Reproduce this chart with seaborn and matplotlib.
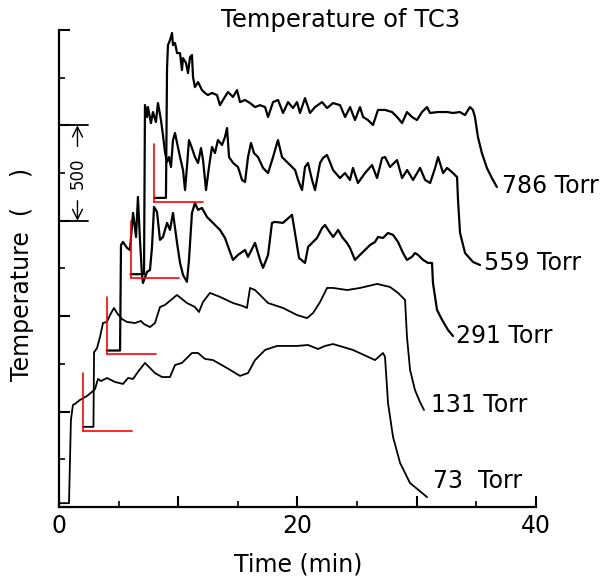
import numpy as np
import pandas as pd
import seaborn as sns
import matplotlib.pyplot as plt
from matplotlib.ticker import MultipleLocator

# TC3 temperature records, raw (time from start in min, temperature)
pressures = ["73  Torr", "131 Torr", "291 Torr", "559 Torr", "786 Torr"]
shift_time = 2.0   # each record shifted right by 2 min
shift_temp = 400   # and up by 400

t73 = [0, 0.84, 1.0, 1.17, 1.34, 1.76, 2.35, 2.77, 3.02, 3.27, 3.52, 4.03, 4.70, 5.37, 5.79,
       6.21, 6.62, 7.21, 8.05, 8.64, 9.31, 9.73, 10.31, 11.15, 11.66, 12.24, 12.91, 14.09,
       15.18, 15.85, 16.44, 17.28, 18.28, 19.96, 20.88, 21.72, 22.31, 22.98, 24.65, 26.50,
       27.17, 27.34, 27.59, 28.01, 28.60, 29.43, 30.86]
T73 = [20, 20, 456, 535, 540, 561, 582, 603, 618, 671, 660, 676, 655, 645, 676,
       671, 708, 755, 702, 681, 681, 744, 755, 807, 807, 776, 770, 728,
       687, 702, 770, 823, 844, 844, 849, 828, 844, 854, 823, 770,
       807, 786, 545, 367, 231, 126, 52]

t131 = [0, 0.89, 0.94, 1.19, 1.44, 1.69, 2.02, 2.28, 2.61, 2.86, 3.28, 3.70, 4.37, 4.87,
        5.12, 5.63, 6.05, 6.47, 6.89, 7.89, 8.73, 9.40, 9.74, 10.07, 10.66, 11.50, 12.59,
        13.43, 13.76, 14.02, 14.44, 14.86, 15.53, 16.79, 17.96, 18.80, 19.31, 19.89, 20.48,
        20.98, 22.16, 23.25, 24.67, 25.76, 26.43, 27.02, 27.18, 27.44, 27.85, 28.27, 28.61]
T131 = [20, 20, 411, 433, 491, 564, 570, 606, 643, 617, 585, 570, 564, 575,
        559, 543, 564, 648, 659, 711, 669, 648, 622, 674, 722, 701, 669,
        653, 643, 748, 737, 711, 669, 643, 606, 590, 617, 674, 748,
        748, 737, 748, 769, 753, 722, 685, 491, 318, 213, 150, 108]

t291 = [0, 1.12, 1.20, 1.37, 1.70, 1.95, 2.21, 2.29, 2.46, 2.62, 2.79, 2.96, 3.04, 3.38,
        3.63, 3.80, 3.97, 4.22, 4.47, 4.72, 5.06, 5.31, 5.56, 5.90, 6.15, 6.40, 6.73, 6.90,
        7.15, 7.40, 7.66, 7.99, 8.41, 8.91, 9.50, 9.92, 10.34, 10.59, 11.01, 11.60, 11.85,
        12.44, 12.86, 13.11, 13.53, 13.86, 14.11, 14.78, 15.54, 15.79, 16.13, 16.63, 16.89,
        17.22, 17.64, 18.06, 18.31, 18.57, 18.99, 19.41, 19.74, 20.15, 20.40, 20.82, 21.07,
        21.66, 22.08, 22.50, 22.75, 23.17, 23.59, 24.01, 24.43, 24.85, 25.18, 25.60, 25.85,
        26.11, 26.53, 26.94, 27.28, 27.36, 27.70, 28.12, 28.62, 29.04]
T291 = [20, 20, 573, 589, 558, 547, 741, 704, 615, 825, 600, 416, 374, 432,
        442, 563, 773, 746, 600, 615, 689, 652, 741, 584, 479, 416, 380, 495,
        741, 793, 757, 767, 720, 689, 652, 610, 537, 495, 521, 547, 511,
        584, 495, 453, 521, 689, 694, 689, 731, 636, 505, 479, 563,
        584, 610, 662, 678, 652, 615, 652, 615, 584, 558, 495, 511,
        547, 573, 589, 615, 610, 636, 626, 589, 531, 495, 511, 531,
        521, 495, 479, 479, 374, 233, 181, 128, 96]

t559 = [0, 1.13, 1.21, 1.38, 1.46, 1.71, 1.88, 2.13, 2.30, 2.55, 2.72, 2.89, 3.06, 3.23,
        3.39, 3.56, 3.73, 3.90, 4.15, 4.40, 4.57, 4.73, 4.90, 5.15, 5.40, 5.66, 5.91, 6.08,
        6.33, 6.58, 6.83, 7.08, 7.33, 7.67, 7.92, 8.09, 8.26, 8.60, 9.01, 9.35, 9.60, 9.85,
        10.10, 10.35, 10.69, 11.11, 11.53, 11.95, 12.36, 12.70, 12.96, 13.38, 13.80, 14.05,
        14.38, 14.63, 14.88, 15.22, 15.47, 15.89, 16.14, 16.47, 16.72, 16.98, 17.56, 17.98,
        18.40, 18.65, 19.07, 19.66, 20.25, 20.67, 21.09, 21.34, 21.76, 22.35, 22.77, 23.19,
        23.69, 24.28, 24.70, 25.12, 25.54, 25.79, 26.21, 26.54, 26.96, 27.38, 27.46, 27.63,
        28.05, 28.72, 29.31]
T559 = [20, 20, 907, 844, 896, 812, 870, 818, 917, 828, 749, 660, 608, 634,
        582, 723, 760, 708, 634, 566, 461, 582, 723, 681, 634, 603, 681, 618,
        461, 582, 687, 655, 723, 697, 739, 786, 634, 603, 582, 514, 503, 634,
        708, 655, 634, 577, 550, 634, 723, 634, 618, 592, 566, 514,
        461, 582, 603, 514, 461, 603, 629, 645, 608, 566, 524, 550,
        514, 577, 498, 550, 592, 524, 629, 634, 582, 618, 524, 566,
        514, 577, 514, 498, 577, 634, 550, 577, 555, 529, 409, 236,
        131, 84, 68]

t786 = [0, 0.97, 1.06, 1.14, 1.31, 1.48, 1.56, 1.73, 1.90, 2.15, 2.31, 2.40, 2.65, 2.82,
        2.99, 3.15, 3.24, 3.40, 3.66, 3.99, 4.24, 4.49, 4.83, 5.25, 5.50, 5.75, 6.17, 6.59,
        6.93, 7.18, 7.60, 8.02, 8.44, 8.86, 9.28, 9.53, 9.95, 10.37, 10.79, 11.21, 11.62,
        11.96, 12.21, 12.63, 13.05, 13.47, 14.06, 14.48, 14.98, 15.57, 15.99, 16.41, 16.82,
        17.24, 17.50, 17.91, 18.33, 18.75, 19.34, 19.93, 20.35, 20.77, 21.18, 21.60, 22.02,
        22.44, 22.86, 23.11, 23.78, 24.54, 25.04, 25.62, 26.04, 26.46, 26.71, 26.88, 27.13,
        27.46, 27.88, 28.30, 28.72]
T786 = [20, 20, 701, 821, 847, 884, 821, 832, 779, 779, 690, 753, 727, 674,
        758, 769, 653, 601, 627, 585, 570, 559, 570, 559, 506, 533, 575, 549,
        585, 522, 533, 517, 496, 506, 496, 444, 522, 533, 465, 522, 491,
        522, 465, 543, 465, 496, 522, 491, 517, 506, 444, 496, 428,
        496, 444, 428, 402, 481, 481, 470, 444, 412, 470, 444, 428,
        470, 496, 465, 470, 470, 465, 470, 454, 496, 481, 444, 339,
        255, 177, 124, 77]

times = [t73, t131, t291, t559, t786]
temps = [T73, T131, T291, T559, T786]

# look of each curve / label
line_widths = [1.3, 1.3, 1.6, 1.6, 1.6]
label_offsets = [(4, 11.5), (5, 3.6), (2, 0), (2.5, 1.5), (3.6, 1)]

sns.set_theme(style="ticks")
plt.rcParams["font.family"] = ["DejaVu Sans"]
plt.rcParams["text.color"] = "black"
plt.rcParams["xtick.color"] = "black"
plt.rcParams["ytick.color"] = "black"

fig = plt.figure(figsize=(6.1, 5.8), dpi=100)
ax = fig.add_axes([0.0967, 0.1259, 0.782, 0.8224])

for i in range(len(pressures)):
    d = pd.DataFrame({"time": np.array(times[i]) + i * shift_time,
                      "temp": np.array(temps[i]) + i * shift_temp})
    sns.lineplot(data=d, x="time", y="temp", ax=ax, color="black",
                 linewidth=line_widths[i], estimator=None, sort=False)
    # red origin marks of the shifted records
    if i > 0:
        x0, y0 = i * shift_time, i * shift_temp
        ax.plot([x0, x0], [y0, y0 + 300], color="red", lw=1.2)
        ax.plot([x0, x0 + 4.1], [y0, y0], color="red", lw=1.2)
    ax.annotate(pressures[i], xy=(d["time"].iloc[-1], d["temp"].iloc[-1]),
                xytext=label_offsets[i], textcoords="offset points",
                ha="left", va="center", fontsize=17, color="black",
                annotation_clip=False)

# 500 degree scale bar
ax.plot([0, 2.43], [2000, 2000], color="black", lw=1.3, clip_on=False)
ax.plot([0, 2.43], [1500, 1500], color="black", lw=1.3, clip_on=False)
arrow = dict(arrowstyle="->", color="black", lw=1.0, mutation_scale=18,
             shrinkA=0, shrinkB=0)
ax.annotate("", xy=(1.55, 2000), xytext=(1.55, 1890), arrowprops=arrow)
ax.annotate("", xy=(1.55, 1500), xytext=(1.55, 1605), arrowprops=arrow)
ax.text(1.55, 1750, "500", rotation=90, ha="center", va="center", fontsize=12)

ax.set_xlim(0, 40)
ax.set_ylim(0, 2500)
ax.set_xticks([0, 10, 20, 30, 40])
ax.set_xticklabels(["0", "", "20", "", "40"], fontsize=17)
ax.xaxis.set_minor_locator(MultipleLocator(5))
ax.set_yticks(range(0, 2501, 500))
ax.set_yticklabels([])
ax.yaxis.set_minor_locator(MultipleLocator(250))
ax.tick_params(which="major", direction="in", length=8, width=1.5, pad=5, colors="black")
ax.tick_params(which="minor", direction="in", length=4.5, width=1.2, colors="black")
ax.set_xlabel("")
ax.set_ylabel("")
sns.despine(ax=ax)
for s in ["left", "bottom"]:
    ax.spines[s].set_linewidth(1.6)
    ax.spines[s].set_color("black")

fig.text(0.559, 0.9655, "Temperature of TC3", ha="center", va="center", fontsize=17.5)
fig.text(0.489, 0.026, "Time (min)", ha="center", va="center", fontsize=17)
fig.text(0.036, 0.526, "Temperature  (    )", rotation=90, ha="center", va="center", fontsize=17)

plt.savefig("out.png", dpi=100)
